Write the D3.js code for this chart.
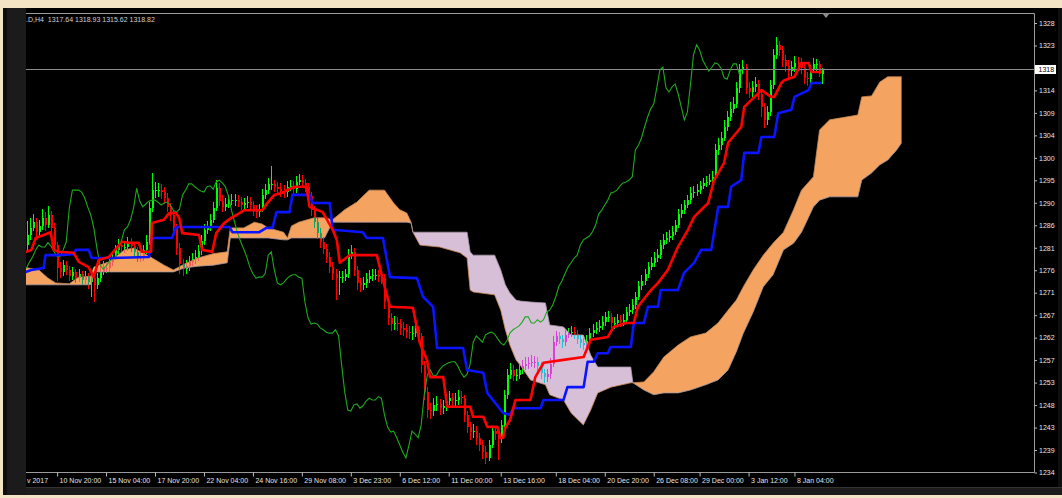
<!DOCTYPE html>
<html>
<head>
<meta charset="utf-8">
<script src="https://cdn.jsdelivr.net/npm/d3@7"></script>
<style>
  html, body { margin: 0; padding: 0; background: #f3e4c6; }
  svg { display: block; font-family: "Liberation Sans", Arial, sans-serif; }
</style>
</head>
<body>
<svg id="chart" width="1062" height="498"></svg>
<script>
/* Gold H4 with Ichimoku: candles, Tenkan (red), Kijun (blue), Chikou (green), Kumo cloud. */

// ---- data (prices) ----
const firstOpen = 1282.0;
const closes = [
  1284.0,1285.5,1286.7,1284.6,1285.9,1287.6,1286.1,1288.2,1285.5,1281.9,
  1277.1,1276.3,1277.7,1276.7,1275.4,1276.3,1275.0,1275.8,1274.6,1275.4,
  1274.2,1275.0,1273.5,1275.0,1276.3,1277.1,
  1277.1,1278.4,1279.4,1280.9,1281.9,1281.5,1281.5,1282.4,1281.7,1280.5,
  1279.6,1279.6,1280.9,1282.6,1289.7,1293.4,1293.4,1293.4,1293.0,1291.8,
  1289.9,1288.2,1285.5,1281.3,1277.9,1276.9,1277.5,1278.4,1279.0,1279.4,
  1280.7,1282.8,1285.1,1285.7,1287.2,1289.7,1293.8,1291.1,1289.9,1290.5,
  1291.1,1291.3,1291.3,1290.9,1290.3,1290.7,1290.9,1290.3,1289.2,1288.8,
  1289.4,1292.4,1293.4,1294.7,1294.7,1294.1,1293.6,1293.2,1293.0,1294.1,
  1294.3,1293.6,1295.1,1295.5,1294.9,1294.1,1292.2,1289.2,1286.7,1284.4,
  1282.6,1281.1,1279.4,1277.3,1275.9,1275.0,1275.2,1275.2,1275.9,1279.8,
  1280.5,1276.7,1274.0,1273.6,1274.0,1274.8,1275.4,1275.7,1275.7,1275.2,
  1275.0,1270.0,1266.7,1265.4,1265.6,1265.4,1264.6,1264.2,1263.7,1263.5,
  1263.5,1264.2,1262.9,1256.8,1251.2,1247.4,1247.2,1248.5,1248.7,1247.8,
  1248.3,1249.3,1249.9,1249.5,1249.5,1250.2,1249.9,1246.4,1243.9,1242.8,
  1243.0,1241.6,1240.1,1238.6,1237.4,1240.1,1243.0,1242.4,1241.6,1244.3,
  1250.6,1254.7,1255.8,1254.5,1254.7,1255.8,1256.6,1257.0,1257.3,1257.5,
  1257.5,1256.6,1255.2,1254.3,1254.9,1257.0,1261.6,1262.9,1262.3,1261.6,
  1263.1,1263.5,1263.7,1263.3,1262.3,1261.4,1261.0,1261.9,1263.5,1264.2,
  1264.6,1265.0,1265.8,1266.9,1266.9,1265.6,1265.6,1266.3,1265.8,1266.3,
  1267.9,1268.3,1269.4,1271.1,1273.3,1274.4,1275.9,1277.3,1278.2,1279.2,
  1279.8,1281.9,1283.0,1283.4,1283.8,1284.7,1286.1,1288.4,1289.2,1290.3,
  1291.3,1292.8,1293.0,1293.4,1294.3,1294.9,1295.1,1295.5,1296.2,1301.8,
  1302.8,1304.3,1306.6,1308.7,1310.4,1311.4,1314.8,1318.5,1319.1,1314.8,
  1313.9,1315.0,1315.6,1313.5,1310.8,1308.1,1309.7,1315.4,1321.7,1323.8,
  1322.7,1320.6,1319.4,1318.3,1319.1,1320.0,1319.8,1318.9,1316.9,1316.6,
  1318.5,1319.8,1319.8,1317.64,1318.82
];
const highs = [
  1287.0,1287.5,1288.5,1287.5,1287.2,1289.5,1288.8,1290.0,1289.0,1286.5,
  1282.5,1278.4,1278.8,1278.6,1277.5,1277.4,1277.0,1276.9,1276.5,1276.4,
  1276.0,1276.0,1275.8,1276.0,1277.5,1278.5,1278.3,1279.6,1280.6,1282.0,
  1283.2,1283.0,1282.8,1283.6,1283.4,1282.6,1281.6,1280.9,1282.0,1284.0,
  1291.0,1297.0,1295.0,1294.8,1294.6,1294.0,1292.8,1290.8,1289.0,1286.4,
  1282.4,1279.0,1278.8,1279.6,1280.3,1280.8,1282.0,1284.0,1286.4,1287.0,
  1288.5,1291.0,1295.5,1294.8,1292.3,1291.7,1292.3,1292.5,1292.6,1292.4,
  1292.0,1291.8,1292.1,1292.0,1291.2,1290.3,1290.6,1293.6,1294.6,1296.0,
  1298.5,1295.6,1295.2,1294.8,1294.4,1295.3,1295.6,1295.4,1296.4,1296.8,
  1296.6,1295.8,1294.8,1293.0,1290.0,1287.6,1285.4,1283.6,1282.2,1280.4,
  1278.4,1277.0,1276.5,1276.5,1277.0,1281.0,1282.0,1281.4,1277.5,1275.0,
  1275.2,1276.0,1276.6,1276.9,1276.9,1276.6,1276.3,1275.8,1270.8,1267.8,
  1267.0,1266.8,1266.5,1265.8,1265.4,1265.0,1264.9,1265.6,1265.0,1263.6,
  1257.6,1252.2,1248.8,1250.0,1250.4,1249.8,1249.6,1250.8,1251.4,1251.0,
  1250.9,1251.6,1251.4,1250.6,1247.2,1245.0,1244.4,1244.0,1242.6,1241.2,
  1239.8,1241.2,1244.0,1244.0,1243.4,1245.4,1251.6,1256.0,1257.2,1256.8,
  1256.0,1257.0,1257.8,1258.4,1258.6,1259.0,1258.8,1258.6,1257.4,1256.0,
  1256.0,1258.2,1262.8,1264.0,1263.8,1263.2,1264.2,1264.6,1265.0,1264.8,
  1264.2,1263.2,1262.4,1263.0,1264.6,1265.4,1265.8,1266.2,1267.0,1268.0,
  1268.2,1267.8,1266.8,1267.4,1267.2,1267.4,1269.0,1269.6,1270.6,1272.2,
  1274.4,1275.6,1277.0,1278.4,1279.4,1280.4,1281.0,1283.0,1284.2,1284.6,
  1285.0,1285.8,1287.2,1289.4,1290.4,1291.4,1292.4,1294.0,1294.2,1294.6,
  1295.4,1296.0,1296.4,1296.8,1297.4,1303.0,1304.2,1305.6,1308.0,1310.0,
  1311.8,1312.8,1316.0,1319.8,1320.6,1319.8,1316.0,1316.2,1317.0,1316.4,
  1314.2,1311.6,1311.0,1316.4,1323.0,1325.4,1324.6,1323.6,1321.6,1320.6,
  1320.4,1321.4,1321.2,1321.0,1319.8,1318.0,1319.6,1321.0,1320.8,1320.4,1318.93
];
const lows = [
  1280.5,1283.0,1284.8,1283.0,1283.8,1285.0,1284.9,1285.5,1284.6,1280.8,
  1274.5,1275.0,1275.5,1275.6,1274.3,1274.6,1274.0,1274.2,1273.5,1273.8,
  1272.8,1271.0,1270.0,1272.8,1274.2,1275.6,1276.0,1276.3,1277.6,1278.8,
  1280.0,1280.4,1280.2,1280.6,1280.5,1279.4,1278.4,1278.3,1278.6,1280.0,
  1282.0,1288.8,1291.8,1292.0,1291.6,1290.6,1288.8,1287.0,1284.3,1279.8,
  1275.8,1275.5,1275.8,1276.5,1277.6,1278.0,1278.6,1279.8,1282.0,1284.2,
  1284.8,1286.5,1289.0,1290.0,1288.8,1289.0,1289.6,1290.2,1290.0,1289.8,
  1289.2,1289.3,1289.6,1289.3,1288.0,1287.6,1287.8,1288.8,1291.6,1292.6,
  1293.5,1293.0,1292.6,1292.0,1291.8,1292.0,1293.2,1292.6,1292.8,1294.4,
  1293.8,1293.0,1291.2,1288.0,1285.4,1283.2,1281.4,1280.0,1278.2,1276.0,
  1274.6,1270.5,1271.5,1274.0,1274.5,1275.0,1278.9,1275.5,1272.5,1272.2,
  1272.6,1273.0,1274.0,1274.5,1274.6,1274.1,1273.8,1268.5,1265.2,1264.0,
  1264.2,1264.0,1263.2,1262.8,1262.4,1262.2,1262.0,1262.6,1261.6,1255.2,
  1249.6,1245.8,1245.6,1246.2,1247.2,1246.4,1246.6,1247.2,1248.4,1248.2,
  1248.2,1248.5,1248.6,1245.0,1242.6,1241.2,1241.6,1240.2,1238.8,1237.2,
  1236.2,1236.8,1239.4,1241.2,1237.0,1240.6,1243.6,1249.8,1254.0,1253.4,
  1253.4,1254.0,1255.0,1255.8,1256.0,1256.4,1256.2,1255.4,1254.0,1253.0,
  1253.2,1254.0,1256.4,1260.8,1261.2,1260.4,1260.8,1262.4,1262.6,1262.2,
  1261.2,1260.4,1260.0,1260.2,1261.0,1262.6,1263.4,1263.8,1264.2,1265.0,
  1265.8,1264.6,1264.4,1264.8,1264.8,1265.0,1265.6,1267.0,1267.6,1268.6,
  1270.4,1272.6,1273.6,1275.0,1276.6,1277.4,1278.4,1279.0,1281.0,1282.2,
  1282.6,1283.0,1284.0,1285.4,1287.6,1288.4,1289.6,1290.6,1291.8,1292.2,
  1292.6,1293.6,1294.0,1294.4,1294.8,1295.6,1300.8,1301.8,1303.6,1305.8,
  1307.8,1309.6,1310.6,1313.8,1317.6,1313.6,1312.6,1312.8,1314.0,1312.2,
  1308.6,1306.4,1307.0,1309.0,1314.6,1320.8,1321.4,1319.2,1318.0,1316.8,
  1317.2,1318.2,1318.6,1317.6,1315.6,1315.2,1315.8,1317.8,1318.4,1317.0,1315.62
];

// Tenkan-sen and Kijun-sen: [bar index, price]
const tenkan = [[-1,1280.3],[1.6,1280.9],[3.0,1283.4],[5.6,1284.0],[7.9,1284.6],[8.9,1280.9],[10.5,1280.5],[15.4,1280.3],[17.1,1278.4],[20.3,1277.3],[22.0,1275.2],[23.6,1278.8],[26.9,1279.4],[31.2,1282.6],[33.5,1282.4],[36.7,1282.4],[37.7,1280.5],[40.7,1280.5],[41.0,1286.5],[44.9,1287.2],[46.6,1288.6],[48.9,1288.6],[49.9,1287.6],[50.9,1284.4],[56.4,1284.0],[57.4,1280.9],[60.7,1280.5],[62.0,1284.4],[64.6,1286.5],[66.9,1287.6],[68.6,1288.2],[71.2,1289.2],[77.1,1289.2],[78.7,1290.7],[81.0,1292.4],[83.3,1292.8],[87.6,1294.1],[91.5,1294.1],[92.5,1289.9],[96.8,1288.8],[100.1,1285.1],[101.4,1283.0],[102.4,1278.2],[105.6,1279.8],[114.5,1279.8],[116.5,1274.6],[118.8,1269.0],[126.3,1268.8],[128.6,1261.4],[130.9,1257.9],[131.9,1254.3],[136.2,1254.3],[137.5,1248.1],[145.0,1248.1],[146.0,1246.0],[149.3,1246.0],[150.6,1243.9],[153.9,1243.9],[154.9,1241.6],[155.8,1241.6],[156.5,1243.7],[158.1,1245.4],[159.8,1249.5],[164.7,1249.5],[166.3,1254.3],[169.0,1257.3],[175.5,1257.9],[182.1,1258.5],[184.4,1262.1],[190.0,1262.7],[191.9,1264.8],[195.9,1265.6],[198.5,1265.6],[199.8,1269.0],[204.1,1272.5],[206.4,1274.0],[209.6,1276.7],[212.9,1281.5],[216.2,1285.1],[218.2,1287.8],[222.8,1290.7],[224.7,1295.5],[228.0,1299.1],[229.3,1303.3],[233.6,1306.6],[234.6,1310.8],[239.2,1313.7],[240.2,1314.3],[243.4,1312.9],[244.4,1312.9],[246.7,1315.8],[247.7,1316.4],[251.0,1317.1],[253.3,1320.0],[255.6,1320.0],[256.6,1318.1],[260,1318.1]];
const kijun = [[-1,1276.1],[1.6,1276.7],[5.6,1277.1],[6.2,1279.8],[9.8,1279.8],[15.4,1280.0],[16.1,1280.9],[20.3,1280.9],[21.3,1279.2],[27.9,1279.2],[40.0,1279.4],[41.0,1283.4],[47.6,1283.4],[48.9,1285.7],[66.3,1285.7],[67.3,1284.6],[76.1,1284.6],[78.4,1285.5],[80.4,1285.5],[81.7,1288.8],[86.0,1288.8],[86.9,1292.4],[92.5,1292.4],[93.5,1290.7],[99.1,1290.7],[100.1,1285.1],[109.9,1284.6],[111.2,1283.4],[116.5,1283.4],[118.8,1275.2],[127.6,1275.0],[129.6,1271.1],[132.9,1269.0],[134.2,1260.4],[142.7,1260.4],[144.0,1255.8],[149.3,1255.2],[150.6,1251.0],[155.8,1246.8],[158.1,1246.4],[159.1,1247.8],[168.0,1247.8],[169.0,1249.5],[175.5,1249.5],[176.8,1252.2],[182.1,1252.2],[183.4,1257.5],[185.4,1257.5],[186.7,1259.3],[190.0,1259.3],[190.9,1260.6],[197.5,1260.6],[198.5,1265.6],[201.8,1265.6],[203.1,1269.0],[206.4,1269.0],[207.3,1272.5],[212.9,1272.5],[214.9,1276.1],[218.2,1278.2],[220.5,1280.9],[223.8,1280.9],[226.1,1289.9],[229.3,1289.9],[230.3,1294.1],[233.6,1295.5],[234.6,1301.2],[239.2,1301.2],[240.2,1304.5],[244.4,1304.5],[245.7,1309.5],[250.0,1310.2],[251.0,1312.9],[255.6,1314.3],[256.6,1315.8],[260,1315.8]];

// Kumo (already shifted 26 bars forward): bar index, Senkou A, Senkou B
const cloudIdx = [-1,4,7,9.5,14,17,21,22,27,32,35,40,45,48,51.5,56,61,65.6,66.6,71,74.5,77,79,84,85.3,86.6,89,94,97.4,100,104,108,112,117,120,122,124.3,125.7,126.3,128.6,135,141.7,144,145,146,153,155,156.5,158,160,161.4,164.7,169.6,171,175.5,178,182,184.4,186.7,191,197.5,198.2,201.8,205,208.3,213,217,222,226,229.3,232,234.3,237.5,240.8,244,247.4,250.7,253.3,257.2,259.2,262.5,271.7,273,276.2,278.9,281.5,284.4,286];
const spanA = [1277.3,1276.7,1275.0,1274.0,1273.8,1275.2,1275.4,1277.3,1278.4,1280.9,1281.3,1279.6,1277.7,1276.7,1277.9,1279.2,1280.1,1280.5,1285.5,1285.5,1286.7,1286.3,1285.5,1284.6,1283.4,1285.9,1286.7,1287.6,1287.6,1287.2,1289.3,1290.9,1293.4,1293.4,1290.7,1289.3,1288.6,1286.7,1284.6,1281.9,1281.5,1280.3,1279.2,1272.5,1272.1,1271.5,1268.3,1264.2,1261.0,1257.9,1256.8,1253.7,1252.7,1250.6,1249.5,1246.8,1244.3,1247.4,1251.0,1252.2,1253.1,1253.1,1253.3,1255.4,1258.5,1261.0,1262.7,1263.5,1265.6,1268.3,1270.4,1273.2,1276.7,1279.8,1282.3,1284.6,1289.3,1293.4,1296.2,1306.0,1308.1,1309.1,1312.9,1313.1,1316.0,1317.1,1317.1,1317.1];
const spanB = [1273.6,1273.6,1273.6,1273.6,1273.6,1273.6,1273.6,1276.3,1276.3,1276.3,1276.3,1276.3,1276.3,1276.3,1277.1,1277.5,1277.7,1278.2,1283.4,1283.4,1283.4,1283.4,1283.4,1283.0,1283.0,1283.4,1283.4,1283.4,1283.4,1286.7,1286.7,1286.7,1286.7,1286.7,1286.7,1286.7,1286.7,1286.5,1284.6,1284.6,1284.6,1284.6,1284.6,1280.5,1279.8,1279.8,1276.7,1273.6,1271.9,1270.4,1270.2,1270.0,1269.8,1265.2,1264.8,1263.1,1263.1,1258.9,1256.4,1256.4,1256.4,1253.1,1251.6,1250.6,1251.0,1251.0,1251.6,1252.7,1253.7,1255.8,1259.6,1263.5,1267.9,1273.2,1275.7,1280.9,1282.3,1284.6,1289.9,1291.3,1292.0,1292.0,1295.5,1297.0,1298.7,1299.7,1301.8,1303.3];

const priceTicks = [1234.35,1239.05,1243.75,1248.45,1253.15,1257.85,1262.55,1267.25,1271.95,1276.65,1281.35,1286.05,1290.75,1295.45,1300.15,1304.85,1309.55,1314.25,1318.95,1323.65,1328.35];
const priceLabels = ["1234","1239","1243","1248","1253","1257","1262","1267","1271","1276","1281","1286","1290","1295","1300","1304","1309","1314","1318","1323","1328"];
const dateIdx = [-0.65,10,26,42,58,74,90,106,122,138,155,173,189,205,220,236,251];
const dateLabels = ["v 2017","10 Nov 20:00","15 Nov 04:00","17 Nov 20:00","22 Nov 04:00","24 Nov 16:00","29 Nov 08:00","3 Dec 23:00","6 Dec 12:00","11 Dec 00:00","13 Dec 16:00","18 Dec 04:00","20 Dec 20:00","26 Dec 08:00","29 Dec 00:00","3 Jan 12:00","8 Jan 04:00"];
const lastPrice = 1318.82;
const lastLabel = "1318";
const header = ".D,H4  1317.64 1318.93 1315.62 1318.82";

// ---- layout ----
const W = 1062, H = 498;
const PL = 26, PR = 1034.5, PT = 13.5, PB = 472.5;
const svg = d3.select("#chart");

const x = d3.scaleLinear().domain([0, 260]).range([26.5, 822]);
const y = d3.scaleLinear().domain([1234.35, 1328.35]).range([472.5, 23]);

const defs = svg.append("defs");
defs.append("clipPath").attr("id", "plotClip").append("rect")
  .attr("x", PL).attr("y", PT).attr("width", PR - PL).attr("height", PB - PT);
defs.append("clipPath").attr("id", "axisClip").append("rect")
  .attr("x", PL).attr("y", 8).attr("width", 1058 - PL).attr("height", 480);

// window frame
svg.append("rect").attr("width", W).attr("height", H).attr("fill", "#f3e4c6");
svg.append("rect").attr("x", 3).attr("y", 8).attr("width", W - 3).attr("height", 487).attr("fill", "#0e0e0e");
svg.append("rect").attr("x", 7).attr("y", 8).attr("width", 19).attr("height", 487).attr("fill", "#1b1b1b");
svg.append("rect").attr("x", PL).attr("y", 8).attr("width", 1058 - PL).attr("height", 479).attr("fill", "#000");
svg.append("rect").attr("x", PL).attr("y", 487).attr("width", W - PL).attr("height", 8).attr("fill", "#1c1c1c");
svg.append("line").attr("x1", PL).attr("x2", W).attr("y1", 487.5).attr("y2", 487.5).attr("stroke", "#333");

const plot = svg.append("g").attr("clip-path", "url(#plotClip)");

// ---- Kumo ----
const cloud = cloudIdx.map((d, i) => ({ i: d, a: spanA[i], b: spanB[i] }));
plot.append("path").datum(cloud)
  .attr("fill", "#f4a460")
  .attr("d", d3.area().x(d => x(d.i)).y0(d => y(d.b)).y1(d => y(Math.max(d.a, d.b))));
plot.append("path").datum(cloud)
  .attr("fill", "#d8bfd8")
  .attr("d", d3.area().x(d => x(d.i)).y0(d => y(d.a)).y1(d => y(Math.max(d.a, d.b))));
plot.append("path").datum(cloud)
  .attr("fill", "none").attr("stroke", "#c98a55").attr("stroke-width", 1).attr("stroke-opacity", 0.8)
  .attr("d", d3.line().x(d => x(d.i)).y(d => y(d.a)));
plot.append("path").datum(cloud)
  .attr("fill", "none").attr("stroke", "#a89aa8").attr("stroke-width", 1).attr("stroke-opacity", 0.8)
  .attr("d", d3.line().x(d => x(d.i)).y(d => y(d.b)));

// bid line
plot.append("line")
  .attr("x1", PL).attr("x2", PR).attr("y1", Math.round(y(lastPrice)) + 0.5).attr("y2", Math.round(y(lastPrice)) + 0.5)
  .attr("stroke", "#8a8a8a").attr("stroke-width", 1);

// ---- candles ----
const candles = closes.map((c, i) => ({ i, o: i === 0 ? firstOpen : closes[i - 1], c, h: highs[i], l: lows[i] }));
const cg = plot.append("g").style("mix-blend-mode", "difference").attr("shape-rendering", "crispEdges");
cg.selectAll("line").data(candles).join("line")
  .attr("x1", d => Math.round(x(d.i)) + 0.5).attr("x2", d => Math.round(x(d.i)) + 0.5)
  .attr("y1", d => y(d.h)).attr("y2", d => y(d.l))
  .attr("stroke", d => d.c >= d.o ? "#00ff00" : "#ff0000").attr("stroke-width", 1);
cg.selectAll("rect").data(candles).join("rect")
  .attr("x", d => Math.round(x(d.i)) - 0.5).attr("width", 2)
  .attr("y", d => y(Math.max(d.o, d.c)))
  .attr("height", d => Math.max(1, Math.abs(y(d.o) - y(d.c))))
  .attr("fill", d => d.c >= d.o ? "#00ff00" : "#ff0000");

// ---- Ichimoku lines ----
const pline = d3.line().x(d => x(d[0])).y(d => y(d[1]));
const chikou = closes.map((c, i) => [i - 26, c]);
plot.append("path").datum(chikou).attr("fill", "none")
  .attr("stroke", "#1ea81e").attr("stroke-width", 1.1).attr("d", pline);
plot.append("path").datum(kijun).attr("fill", "none")
  .attr("stroke", "#0a14ff").attr("stroke-width", 2.6).attr("stroke-linejoin", "round").attr("d", pline);
plot.append("path").datum(tenkan).attr("fill", "none")
  .attr("stroke", "#ff0000").attr("stroke-width", 2.6).attr("stroke-linejoin", "round").attr("d", pline);

// plot borders
const border = svg.append("g").attr("stroke", "#9a9a9a").attr("stroke-width", 1).attr("fill", "none");
border.append("line").attr("x1", PL).attr("x2", PR).attr("y1", PT).attr("y2", PT);
border.append("line").attr("x1", PR).attr("x2", PR).attr("y1", PT).attr("y2", PB);
border.append("line").attr("x1", PL).attr("x2", PR).attr("y1", PB).attr("y2", PB);

// chart-shift marker
svg.append("path").attr("d", "M822,13 L830,13 L826,18 Z").attr("fill", "#8c8c8c");

// header
svg.append("text").attr("x", PL).attr("y", 21.5)
  .attr("font-size", 7).attr("fill", "#cfcfcf").style("white-space", "pre")
  .text(header);

// ---- axes ----
const axisG = svg.append("g").attr("clip-path", "url(#axisClip)");

const yAxis = axisG.append("g").attr("transform", `translate(${PR},0)`)
  .call(d3.axisRight(y).tickValues(priceTicks).tickFormat((d, i) => priceLabels[i]).tickSize(2.5).tickPadding(2));
yAxis.select(".domain").remove();
yAxis.selectAll("line").attr("stroke", "#bdbdbd");
yAxis.selectAll("text").attr("font-size", 7).attr("fill", "#e4e6ee")
  .attr("font-family", "Liberation Sans, Arial, sans-serif");

const xAxis = axisG.append("g").attr("transform", `translate(0,${PB})`)
  .call(d3.axisBottom(x).tickValues(dateIdx).tickFormat((d, i) => dateLabels[i]).tickSize(4));
xAxis.select(".domain").remove();
xAxis.selectAll("line").attr("stroke", "#bdbdbd");
xAxis.selectAll("text").attr("font-size", 7).attr("fill", "#e4e4e4")
  .attr("text-anchor", "start").attr("x", 2).attr("y", 5.5)
  .attr("font-family", "Liberation Sans, Arial, sans-serif");

// last-price tag
const yp = Math.round(y(lastPrice)) + 0.5;
axisG.append("rect").attr("x", PR + 0.5).attr("y", yp - 4.5).attr("width", 21).attr("height", 9).attr("fill", "#fff");
axisG.append("text").attr("x", PR + 4).attr("y", yp + 2.5)
  .attr("font-size", 7).attr("fill", "#000").text(lastLabel);
</script>
</body>
</html>
